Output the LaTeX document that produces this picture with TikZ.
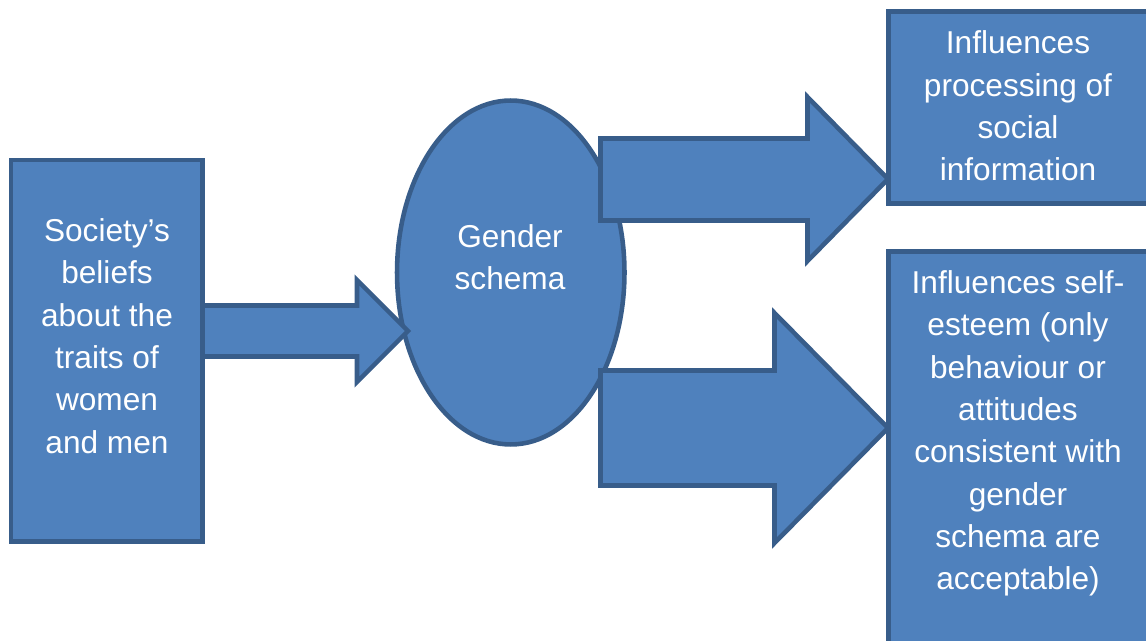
\documentclass[tikz,border=0pt]{standalone}
\usepackage{fontspec}
\setmainfont{Liberation Sans}
\usetikzlibrary{shapes.geometric}
\definecolor{fillblue}{HTML}{4F81BD}
\definecolor{edgeblue}{HTML}{385D8A}
\begin{document}
\begin{tikzpicture}[x=0.02cm,y=-0.02cm,
  blk/.style={fill=fillblue,draw=edgeblue,line width=2.6pt,line join=miter},
  box/.style={blk,rectangle,inner sep=0pt},
  txt/.style={text=white,align=center,font=\fontsize{18}{24.1}\selectfont,inner sep=0pt}]
\useasboundingbox (0,0) rectangle (1146,641);
\clip (0,0) rectangle (1146,641);
% shapes
\node[box,minimum width=3.83cm,minimum height=7.63cm] (soc) at (106.75,350.75) {};
\node[blk,ellipse,inner sep=0pt,minimum width=4.55cm,minimum height=6.88cm] (gs) at (510.75,272.5) {};
\node[box,minimum width=5.43cm,minimum height=3.84cm] (proc) at (1024.25,107.5) {};
\node[box,minimum width=5.43cm,minimum height=8.17cm] (self) at (1024.25,455.75) {};
% block arrows
\draw[blk] (202.5,305.5) -- (357,305.5) -- (357,280) -- (408,331) -- (357,382) -- (357,356.5) -- (202.5,356.5) -- cycle;
\draw[blk] (600.5,138.5) -- (807.5,138.5) -- (807.5,97) -- (888,179) -- (807.5,261) -- (807.5,220.5) -- (600.5,220.5) -- cycle;
\draw[blk] (600.5,370.5) -- (774.5,370.5) -- (774.5,313) -- (888,428) -- (774.5,543) -- (774.5,485.5) -- (600.5,485.5) -- cycle;
% texts
\node[txt] (soct) at (107,336) {Society’s\\beliefs\\about the\\traits of\\women\\and men};
\node[txt] (gst) at (510,257) {Gender\\schema};
\node[txt] (proct) at (1018,106) {Influences\\processing of\\social\\information};
\node[txt] (selft) at (1018,433.5) {Influences self-\\esteem (only\\behaviour or\\attitudes\\consistent with\\gender\\schema are\\acceptable)};
\end{tikzpicture}
\end{document}
